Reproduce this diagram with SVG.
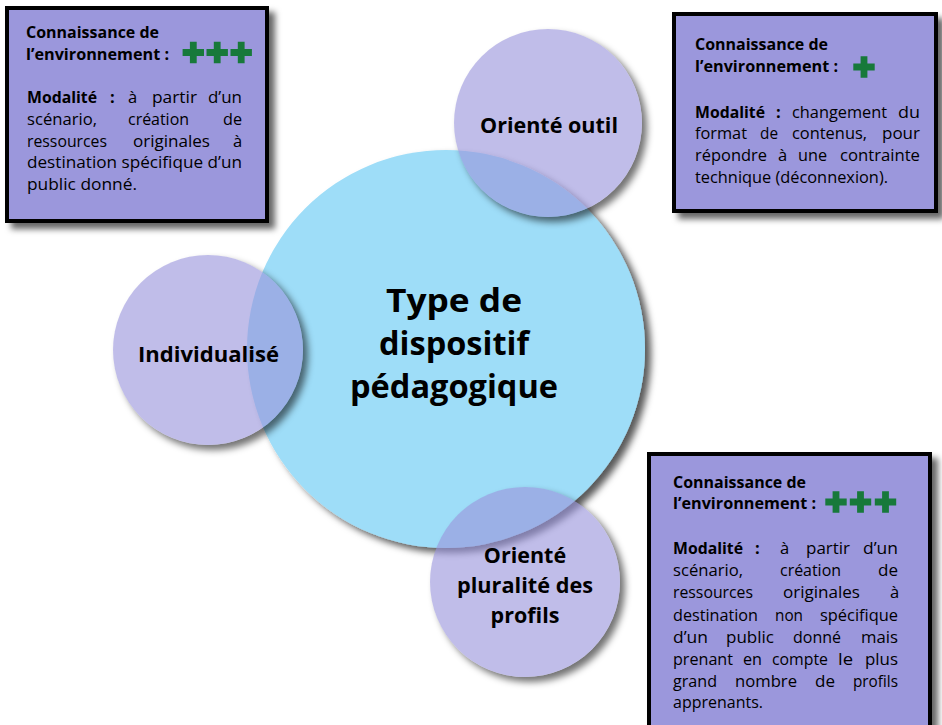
<svg xmlns="http://www.w3.org/2000/svg" width="942" height="725" viewBox="0 0 942 725">
<defs>
<style>
.box{fill:#9B97DC;stroke:#000;stroke-width:4;filter:url(#boxsh)}
.hd{font-family:"Open Sans","Noto Sans","Liberation Sans",sans-serif;font-weight:700;font-size:15.5px;fill:#000}
.bd text{font-family:"Open Sans","Noto Sans","Liberation Sans",sans-serif;font-size:16.5px;fill:#000}
.bd text.b{font-weight:700}
.plus{fill:#17793A}
.big{fill:#9EDDF8;filter:url(#bigsh)}
.small{fill:#9994DC;fill-opacity:0.62}
.sh{fill:#000;fill-opacity:0.55;filter:url(#blur)}
.lbl{font-family:"Open Sans","Noto Sans","Liberation Sans",sans-serif;font-weight:700;font-size:21.5px;fill:#000;text-anchor:middle}
.ttl{font-family:"Open Sans","Noto Sans","Liberation Sans",sans-serif;font-weight:700;font-size:32px;fill:#000;text-anchor:middle}
</style>
<filter id="boxsh" x="-10%" y="-10%" width="130%" height="130%"><feDropShadow dx="6" dy="6" stdDeviation="3" flood-color="#000" flood-opacity="0.6"/></filter>
<filter id="bigsh" x="-10%" y="-10%" width="130%" height="130%"><feDropShadow dx="6" dy="5" stdDeviation="3.5" flood-color="#000" flood-opacity="0.65"/></filter>
<filter id="blur" x="-20%" y="-20%" width="140%" height="140%"><feGaussianBlur stdDeviation="3.5"/></filter>
<mask id="m-outil" maskUnits="userSpaceOnUse" x="0" y="0" width="942" height="725"><rect width="942" height="725" fill="#fff"/><circle cx="548" cy="123" r="94" fill="#000"/></mask>
<mask id="m-indiv" maskUnits="userSpaceOnUse" x="0" y="0" width="942" height="725"><rect width="942" height="725" fill="#fff"/><circle cx="208" cy="350" r="95" fill="#000"/></mask>
<mask id="m-plur" maskUnits="userSpaceOnUse" x="0" y="0" width="942" height="725"><rect width="942" height="725" fill="#fff"/><circle cx="525" cy="582" r="95" fill="#000"/></mask>
<path id="cross" d="M-3.4,-10.7h6.8v7.3h7.3v6.8h-7.3v7.3h-6.8v-7.3h-7.3v-6.8h7.3z"/>
</defs>
<rect width="942" height="725" fill="#fff"/>

<g id="connectors"></g>

<g id="node-center">
<circle class="big" cx="446" cy="349" r="199"/>
<text class="ttl" x="454" y="312" textLength="136" lengthAdjust="spacingAndGlyphs">Type de</text>
<text class="ttl" x="454" y="355" textLength="150" lengthAdjust="spacingAndGlyphs">dispositif</text>
<text class="ttl" x="454" y="398" textLength="208" lengthAdjust="spacingAndGlyphs">pédagogique</text>
</g>

<g id="node-outil">
<circle class="sh" cx="553" cy="128" r="94" mask="url(#m-outil)"/>
<circle class="small" cx="548" cy="123" r="94"/>
<text class="lbl" x="549" y="133" textLength="138" lengthAdjust="spacingAndGlyphs">Orienté outil</text>
</g>

<g id="node-indiv">
<circle class="sh" cx="213" cy="355" r="95" mask="url(#m-indiv)"/>
<circle class="small" cx="208" cy="350" r="95"/>
<text class="lbl" x="208.5" y="362" textLength="141" lengthAdjust="spacingAndGlyphs">Individualisé</text>
</g>

<g id="node-plur">
<circle class="sh" cx="530" cy="587" r="95" mask="url(#m-plur)"/>
<circle class="small" cx="525" cy="582" r="95"/>
<text class="lbl" x="525" y="563">Orienté</text>
<text class="lbl" x="525" y="593" textLength="136" lengthAdjust="spacingAndGlyphs">pluralité des</text>
<text class="lbl" x="525" y="623">profils</text>
</g>

<g id="box-indiv">
<rect class="box" x="7" y="8" width="260" height="213"/>
<text class="hd" x="26" y="38" textLength="133" lengthAdjust="spacingAndGlyphs">Connaissance de</text>
<text class="hd" x="26" y="60" textLength="143" lengthAdjust="spacingAndGlyphs">l’environnement :</text>
<use href="#cross" class="plus" x="193.3" y="52.5"/>
<use href="#cross" class="plus" x="217.2" y="52.5"/>
<use href="#cross" class="plus" x="241.2" y="52.5"/>
<g class="bd">
<text x="27" y="103" class="b" textLength="70" lengthAdjust="spacingAndGlyphs">Modalité</text><text x="110" y="103" class="b">:</text><text x="128" y="103">à</text><text x="152" y="103" textLength="45" lengthAdjust="spacingAndGlyphs">partir</text><text x="208" y="103" textLength="34" lengthAdjust="spacingAndGlyphs">d’un</text>
<text x="27" y="125" textLength="70" lengthAdjust="spacingAndGlyphs">scénario,</text><text x="128" y="125" textLength="61" lengthAdjust="spacingAndGlyphs">création</text><text x="223" y="125" textLength="19" lengthAdjust="spacingAndGlyphs">de</text>
<text x="27" y="147" textLength="80" lengthAdjust="spacingAndGlyphs">ressources</text><text x="133" y="147" textLength="77" lengthAdjust="spacingAndGlyphs">originales</text><text x="233" y="147">à</text>
<text x="27" y="168" textLength="215" lengthAdjust="spacingAndGlyphs">destination spécifique d’un</text>
<text x="27" y="190" textLength="110" lengthAdjust="spacingAndGlyphs">public donné.</text>
</g>
</g>

<g id="box-outil">
<rect class="box" x="674" y="14" width="262" height="197"/>
<text class="hd" x="695" y="50" textLength="133" lengthAdjust="spacingAndGlyphs">Connaissance de</text>
<text class="hd" x="695" y="72" textLength="143" lengthAdjust="spacingAndGlyphs">l’environnement :</text>
<use href="#cross" class="plus" x="864" y="67"/>
<g class="bd">
<text x="695" y="117.5" class="b" textLength="70" lengthAdjust="spacingAndGlyphs">Modalité</text><text x="776" y="117.5" class="b">:</text><text x="792" y="117.5" textLength="95" lengthAdjust="spacingAndGlyphs">changement</text><text x="898" y="117.5" textLength="22" lengthAdjust="spacingAndGlyphs">du</text>
<text x="695" y="139" textLength="52" lengthAdjust="spacingAndGlyphs">format</text><text x="760" y="139" textLength="18" lengthAdjust="spacingAndGlyphs">de</text><text x="792" y="139" textLength="75" lengthAdjust="spacingAndGlyphs">contenus,</text><text x="882" y="139" textLength="38" lengthAdjust="spacingAndGlyphs">pour</text>
<text x="695" y="161" textLength="72" lengthAdjust="spacingAndGlyphs">répondre</text><text x="778" y="161">à</text><text x="798" y="161" textLength="29" lengthAdjust="spacingAndGlyphs">une</text><text x="840" y="161" textLength="80" lengthAdjust="spacingAndGlyphs">contrainte</text>
<text x="695" y="182.5" textLength="193" lengthAdjust="spacingAndGlyphs">technique (déconnexion).</text>
</g>
</g>

<g id="box-plur">
<rect class="box" x="649" y="454" width="281" height="285"/>
<text class="hd" x="673" y="488" textLength="133" lengthAdjust="spacingAndGlyphs">Connaissance de</text>
<text class="hd" x="673" y="509" textLength="143" lengthAdjust="spacingAndGlyphs">l’environnement :</text>
<use href="#cross" class="plus" x="836" y="502"/>
<use href="#cross" class="plus" x="860.5" y="502"/>
<use href="#cross" class="plus" x="885.5" y="502"/>
<g class="bd">
<text x="673" y="554" class="b" textLength="70" lengthAdjust="spacingAndGlyphs">Modalité</text><text x="755" y="554" class="b">:</text><text x="780" y="554">à</text><text x="806" y="554" textLength="44" lengthAdjust="spacingAndGlyphs">partir</text><text x="863" y="554" textLength="35" lengthAdjust="spacingAndGlyphs">d’un</text>
<text x="673" y="576" textLength="70" lengthAdjust="spacingAndGlyphs">scénario,</text><text x="780" y="576" textLength="61" lengthAdjust="spacingAndGlyphs">création</text><text x="878" y="576" textLength="20" lengthAdjust="spacingAndGlyphs">de</text>
<text x="673" y="598" textLength="80" lengthAdjust="spacingAndGlyphs">ressources</text><text x="783" y="598" textLength="77" lengthAdjust="spacingAndGlyphs">originales</text><text x="890" y="598">à</text>
<text x="673" y="621" textLength="85" lengthAdjust="spacingAndGlyphs">destination</text><text x="775" y="621" textLength="28" lengthAdjust="spacingAndGlyphs">non</text><text x="820" y="621" textLength="78" lengthAdjust="spacingAndGlyphs">spécifique</text>
<text x="673" y="643" textLength="35" lengthAdjust="spacingAndGlyphs">d’un</text><text x="726" y="643" textLength="48" lengthAdjust="spacingAndGlyphs">public</text><text x="793" y="643" textLength="48" lengthAdjust="spacingAndGlyphs">donné</text><text x="861" y="643" textLength="37" lengthAdjust="spacingAndGlyphs">mais</text>
<text x="673" y="665" textLength="60" lengthAdjust="spacingAndGlyphs">prenant</text><text x="743" y="665" textLength="19" lengthAdjust="spacingAndGlyphs">en</text><text x="772" y="665" textLength="56" lengthAdjust="spacingAndGlyphs">compte</text><text x="838" y="665" textLength="15" lengthAdjust="spacingAndGlyphs">le</text><text x="865" y="665" textLength="33" lengthAdjust="spacingAndGlyphs">plus</text>
<text x="673" y="687" textLength="44" lengthAdjust="spacingAndGlyphs">grand</text><text x="735" y="687" textLength="62" lengthAdjust="spacingAndGlyphs">nombre</text><text x="815" y="687" textLength="20" lengthAdjust="spacingAndGlyphs">de</text><text x="853" y="687" textLength="45" lengthAdjust="spacingAndGlyphs">profils</text>
<text x="673" y="708" textLength="90" lengthAdjust="spacingAndGlyphs">apprenants.</text>
</g>
</g>
</svg>
